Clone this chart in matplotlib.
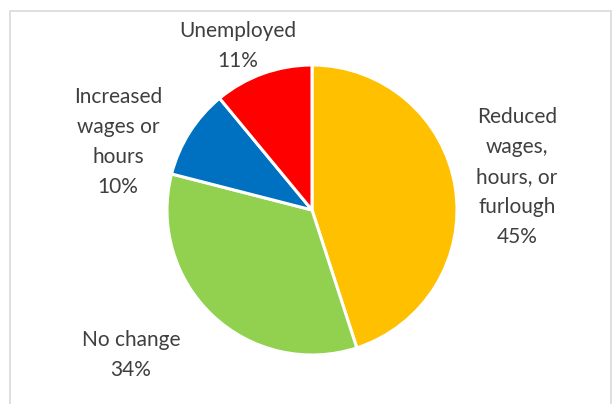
import matplotlib
matplotlib.use("Agg")
import matplotlib.pyplot as plt
from matplotlib.patches import Rectangle

categories = ["Reduced\nwages,\nhours, or\nfurlough", "No change", "Increased\nwages or\nhours", "Unemployed"]
values = [45, 34, 10, 11]
colors = ["#FFC000", "#92D050", "#0070C0", "#FF0000"]

W, H = 615, 404
fig = plt.figure(figsize=(W / 100, H / 100), dpi=100)
ax = fig.add_axes([0, 0, 1, 1])

# chart border
ax.add_patch(Rectangle((10, -5), 601, H - 10 + 5 - 1, fill=False, edgecolor="#D9D9D9", linewidth=1.2))

cx, cy, r = 312, H - 210, 145
ax.pie(values, colors=colors, startangle=90, counterclock=False,
       center=(cx, cy), radius=r, frame=True,
       wedgeprops=dict(edgecolor="white", linewidth=2.2))
ax.set_xlim(0, W)
ax.set_ylim(0, H)
ax.set_aspect("equal")
ax.axis("off")

label_pos = [(517, H - 177), (131, H - 355), (118, H - 142), (238, H - 46)]
for cat, v, (x, y) in zip(categories, values, label_pos):
    ax.text(x, y, f"{cat}\n{v}%", ha="center", va="center", fontsize=15,
            family="Lato", color="#3F3F3F", linespacing=1.63)

fig.savefig("out.png", dpi=100)
